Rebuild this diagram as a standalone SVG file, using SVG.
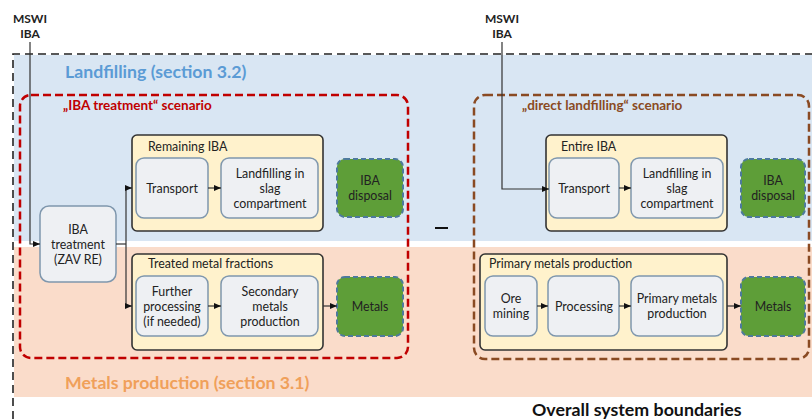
<svg xmlns="http://www.w3.org/2000/svg" width="812" height="419" viewBox="0 0 812 419">
  <style>
    text { font-family: Lato, "Open Sans", "Liberation Sans", sans-serif; }
    .lbl { font-size: 12.4px; fill: #222; text-anchor: middle; }
    .hdr { font-size: 12.4px; fill: #222; }
    .src { font-size: 12px; font-weight: bold; fill: #222; text-anchor: middle; }
    .proc { fill: #eef0f3; stroke: #7f97ad; stroke-width: 1.5; }
    .grp { fill: #fff2cc; stroke: #333; stroke-width: 1.6; }
    .out { fill: #5e9e38; stroke: #4d7a9c; stroke-width: 2; stroke-dasharray: 5 3; }
    .wire { fill: none; stroke: #333; stroke-width: 1.2; }
  </style>
  <defs>
    <marker id="arr" markerUnits="userSpaceOnUse" markerWidth="7" markerHeight="6" refX="7" refY="3" orient="auto">
      <path d="M0,0 L7,3 L0,6 z" fill="#111"/>
    </marker>
  </defs>

  <!-- background zones -->
  <rect x="14" y="55" width="798" height="186" fill="#d9e6f3"/>
  <rect x="14" y="247" width="798" height="150" fill="#fadcca"/>
  <!-- overall system boundary -->
  <path d="M13,419 L13,54 L812,54" fill="none" stroke="#222" stroke-width="1.6" stroke-dasharray="8 5"/>

  <text x="65" y="78" font-size="17.7" font-weight="bold" fill="#5b9bd5">Landfilling (section 3.2)</text>
  <text x="65" y="389" font-size="17.7" font-weight="bold" fill="#f0a05a">Metals production (section 3.1)</text>
  <text x="532" y="416" font-size="17.8" font-weight="bold" fill="#111">Overall system boundaries</text>

  <!-- scenario boundaries -->
  <g id="scenario-treatment">
    <rect x="20" y="95" width="388" height="263" rx="11" fill="none" stroke="#c00000" stroke-width="2.5" stroke-dasharray="8 4"/>
    <text x="63" y="110" font-size="13.5" font-weight="bold" fill="#c00000">„IBA treatment“ scenario</text>
  </g>
  <g id="scenario-direct">
    <rect x="474" y="95" width="335" height="264" rx="11" fill="none" stroke="#8a4a22" stroke-width="2.5" stroke-dasharray="8 4"/>
    <text x="522" y="110" font-size="13.5" font-weight="bold" fill="#8a4a22">„direct landfilling“ scenario</text>
  </g>

  <!-- inputs -->
  <g id="input-left">
    <text class="src" x="30" y="23">MSWI</text>
    <text class="src" x="30" y="38">IBA</text>
  </g>
  <g id="input-right">
    <text class="src" x="502" y="23">MSWI</text>
    <text class="src" x="502" y="38">IBA</text>
  </g>

  <!-- IBA treatment scenario -->
  <g id="iba-treatment">
    <rect class="proc" x="40" y="206" width="76" height="76" rx="9"/>
    <text class="lbl" x="78" y="233.5">IBA</text>
    <text class="lbl" x="78" y="248.5">treatment</text>
    <text class="lbl" x="78" y="263.5">(ZAV RE)</text>
  </g>
  <g id="remaining-iba">
    <rect class="grp" x="132" y="135" width="191" height="96" rx="5"/>
    <text class="hdr" x="148" y="151">Remaining IBA</text>
  </g>
  <g id="transport-1">
    <rect class="proc" x="136" y="158" width="72" height="60" rx="8"/>
    <text class="lbl" x="172" y="192.5">Transport</text>
  </g>
  <g id="landfill-1">
    <rect class="proc" x="221" y="158" width="97" height="60" rx="8"/>
    <text class="lbl" x="270" y="177.5">Landfilling in</text>
    <text class="lbl" x="270" y="192.5">slag</text>
    <text class="lbl" x="270" y="207.5">compartment</text>
  </g>
  <g id="disposal-1">
    <rect class="out" x="337" y="159" width="66" height="58" rx="8"/>
    <text class="lbl" x="370" y="185">IBA</text>
    <text class="lbl" x="370" y="200">disposal</text>
  </g>
  <g id="treated-metals">
    <rect class="grp" x="132" y="254" width="191" height="96" rx="5"/>
    <text class="hdr" x="148" y="268">Treated metal fractions</text>
  </g>
  <g id="further-processing">
    <rect class="proc" x="136" y="276" width="72" height="60" rx="8"/>
    <text class="lbl" x="172" y="295.5">Further</text>
    <text class="lbl" x="172" y="310.5">processing</text>
    <text class="lbl" x="172" y="325.5">(if needed)</text>
  </g>
  <g id="secondary-metals">
    <rect class="proc" x="221" y="276" width="97" height="60" rx="8"/>
    <text class="lbl" x="270" y="295.5">Secondary</text>
    <text class="lbl" x="270" y="310.5">metals</text>
    <text class="lbl" x="270" y="325.5">production</text>
  </g>
  <g id="metals-1">
    <rect class="out" x="337" y="277" width="66" height="59" rx="8"/>
    <text class="lbl" x="370" y="310.5">Metals</text>
  </g>

  <!-- direct landfilling scenario -->
  <g id="entire-iba">
    <rect class="grp" x="546" y="135" width="181" height="96" rx="5"/>
    <text class="hdr" x="561" y="151">Entire IBA</text>
  </g>
  <g id="transport-2">
    <rect class="proc" x="549" y="158" width="70" height="60" rx="8"/>
    <text class="lbl" x="584" y="192.5">Transport</text>
  </g>
  <g id="landfill-2">
    <rect class="proc" x="631" y="158" width="92" height="60" rx="8"/>
    <text class="lbl" x="677" y="177.5">Landfilling in</text>
    <text class="lbl" x="677" y="192.5">slag</text>
    <text class="lbl" x="677" y="207.5">compartment</text>
  </g>
  <g id="disposal-2">
    <rect class="out" x="741" y="159" width="64" height="58" rx="8"/>
    <text class="lbl" x="773" y="185">IBA</text>
    <text class="lbl" x="773" y="200">disposal</text>
  </g>
  <g id="primary-metals">
    <rect class="grp" x="480" y="254" width="247" height="96" rx="5"/>
    <text class="hdr" x="489" y="268">Primary metals production</text>
  </g>
  <g id="ore-mining">
    <rect class="proc" x="485" y="276" width="52" height="60" rx="8"/>
    <text class="lbl" x="511" y="302.5">Ore</text>
    <text class="lbl" x="511" y="317.5">mining</text>
  </g>
  <g id="processing">
    <rect class="proc" x="548" y="276" width="71" height="60" rx="8"/>
    <text class="lbl" x="584" y="310.5">Processing</text>
  </g>
  <g id="primary-production">
    <rect class="proc" x="631" y="276" width="92" height="60" rx="8"/>
    <text class="lbl" x="677" y="302.5">Primary metals</text>
    <text class="lbl" x="677" y="317.5">production</text>
  </g>
  <g id="metals-2">
    <rect class="out" x="741" y="277" width="64" height="59" rx="8"/>
    <text class="lbl" x="773" y="310.5">Metals</text>
  </g>

  <!-- difference sign between scenarios -->
  <line x1="435" y1="228" x2="448" y2="228" stroke="#111" stroke-width="2"/>

  <!-- connectors -->
  <g id="connectors">
    <path class="wire" d="M30,42 L30,244 L40,244" marker-end="url(#arr)"/>
    <path class="wire" d="M116,244 L126,244"/>
    <path class="wire" d="M126,188 L126,306"/>
    <path class="wire" d="M126,188 L132,188" marker-end="url(#arr)"/>
    <path class="wire" d="M126,306 L132,306" marker-end="url(#arr)"/>
    <path class="wire" d="M208,188 L221,188" marker-end="url(#arr)"/>
    <path class="wire" d="M208,306 L221,306" marker-end="url(#arr)"/>
    <path class="wire" d="M323,306 L337,306" marker-end="url(#arr)"/>
    <path class="wire" d="M502,42 L502,189 L549,189" marker-end="url(#arr)"/>
    <path class="wire" d="M619,188 L631,188" marker-end="url(#arr)"/>
    <path class="wire" d="M537,306 L548,306" marker-end="url(#arr)"/>
    <path class="wire" d="M619,306 L631,306" marker-end="url(#arr)"/>
    <path class="wire" d="M727,306 L741,306" marker-end="url(#arr)"/>
  </g>
</svg>
